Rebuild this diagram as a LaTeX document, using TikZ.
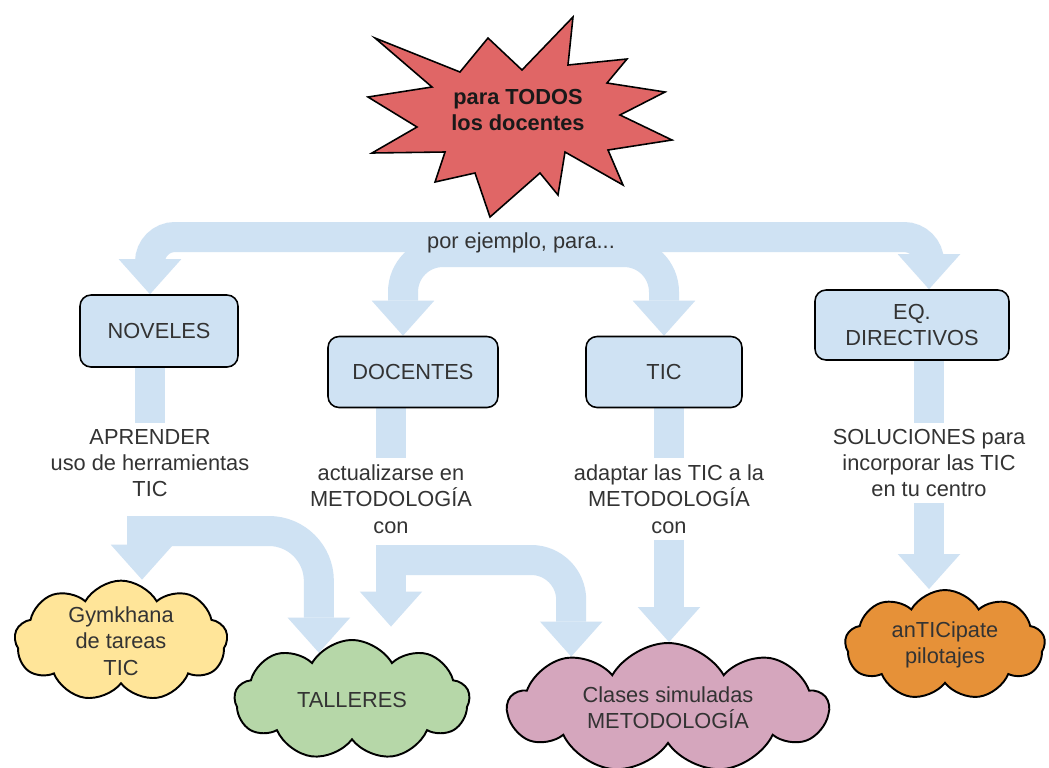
\documentclass[tikz,border=0pt]{standalone}
\usepackage{fontspec}
\setmainfont{Liberation Sans}
\usetikzlibrary{arrows.meta,
                shapes.symbols,
                backgrounds}

\definecolor{flowblue}{HTML}{CFE2F3}
\definecolor{boxblue}{HTML}{CFE2F3}
\definecolor{burstred}{HTML}{E06666}
\definecolor{gymyellow}{HTML}{FFE599}
\definecolor{tallgreen}{HTML}{B6D7A8}
\definecolor{clasepink}{HTML}{D5A6BD}
\definecolor{antorange}{HTML}{E69138}
\definecolor{ink}{HTML}{333333}

\tikzset{
  flow/.style={draw=flowblue, line width=0.6cm, rounded corners=#1,
    -{Triangle[width=1.25cm, length=0.7cm, line width=0pt]}},
  flow/.default=0.5cm,
  bar/.style={draw=flowblue, line width=0.6cm},
  group/.style={draw=black, fill=boxblue, rounded corners=0.22cm,
    line width=0.9pt, align=center},
  puff/.style={cloud, cloud puffs=9, cloud puff arc=120, cloud ignores aspect,
    draw=black, line width=1.1pt, align=center, inner sep=0pt},
  note/.style={align=center}
}

\begin{document}
\begin{tikzpicture}[x=0.02cm, y=-0.02cm, font=\fontsize{12.4}{15}\selectfont, text=ink]
    \useasboundingbox (0,0) rectangle (1049,768);

    \draw[fill=burstred, line width=0.9pt, line join=miter]
      (573,17) -- (568,65) -- (627,59) -- (607,83) -- (665,92) -- (620,115)
      -- (672,140) -- (608,150) -- (623,185) -- (565,152) -- (558,195)
      -- (540,173) -- (490,217) -- (475,173) -- (435,182) -- (445,152)
      -- (372,153) -- (417,127) -- (368,97) -- (432,87) -- (375,38)
      -- (460,72) -- (488,38) -- (522,70) -- cycle;
    \node[font=\fontsize{12.4}{15}\selectfont\bfseries, align=center, text=black!90]
      (todos) at (518,110) {para TODOS\\los docentes};

    \node (ejemplo) at (521,243) {por ejemplo, para...};

    \node[group, minimum width=3.16cm, minimum height=1.44cm] (novel) at (159,331) {NOVELES};
    \node[group, minimum width=3.40cm, minimum height=1.42cm] (docen) at (413,372) {DOCENTES};
    \node[group, minimum width=3.12cm, minimum height=1.42cm] (tic)   at (664,372) {TIC};
    \node[group, minimum width=3.88cm, minimum height=1.40cm] (eqdir) at (912,325) {EQ.\\DIRECTIVOS};

    \node[note] (aprtxt) at (150,463) {APRENDER\\uso de herramientas\\TIC};
    \node[note] (doctxt) at (391,499) {actualizarse en\\METODOLOGÍA\\con};
    \node[note] (adatxt) at (669,499) {adaptar las TIC a la\\METODOLOGÍA\\con};
    \node[note] (soltxt) at (929,463) {SOLUCIONES para\\incorporar las TIC\\en tu centro};

    \node[puff, fill=gymyellow, minimum width=4.26cm, minimum height=2.1cm]
      (gymk) at (121,641) {Gymkhana\\de tareas\\TIC};
    \node[puff, fill=tallgreen, minimum width=4.7cm, minimum height=2.4cm]
      (talleres) at (352,700) {TALLERES};
    \node[puff, fill=clasepink, minimum width=6.4cm, minimum height=2.6cm]
      (clases) at (668,708) {Clases simuladas\\METODOLOGÍA};
    \node[puff, fill=antorange, minimum width=4.0cm, minimum height=2.2cm]
      (antic) at (945,645) {anTICipate\\pilotajes};

    \coordinate (hub)   at (520,237);
    \coordinate (hubl)  at (530,252);
    \coordinate (lowA)  at (142,516);
    \coordinate (lowAh) at (127,531);
    \coordinate (lowB)  at (391,547);
    \coordinate (lowBh) at (376,560);

    \begin{scope}[on background layer]
      \fill[white] (0,0) rectangle (1049,768);
      \draw[flow] (hub) -| (aprtxt |- novel.north);
      \draw[flow] (hub) -| (soltxt |- eqdir.north);
      \draw[flow=0.8cm] (hubl) -| ([xshift=-0.2cm]docen.north);
      \draw[flow=0.8cm] (hubl) -| (tic.north);

      \draw[bar] (novel.south -| aprtxt) -- (aprtxt.north);
      \draw[bar] (docen.south -| doctxt) -- (doctxt.north);
      \draw[bar] (tic.south -| adatxt) -- (adatxt.north);
      \draw[bar] (eqdir.south -| soltxt) -- (soltxt.north);

      \draw[flow] (lowA) -- (lowA |- gymk.north);
      \draw[flow=1cm] (lowAh) -| (talleres.125);
      \draw[flow, shorten >=0.25cm] (lowB) -- (lowB |- talleres.north);
      \draw[flow=0.8cm] (lowBh) -| (clases.152);
      \draw[flow] (adatxt.south) -- (adatxt.south |- clases.north);
      \draw[flow] (soltxt.south) -- (soltxt.south |- antic.north);
    \end{scope}
\end{tikzpicture}
\end{document}
